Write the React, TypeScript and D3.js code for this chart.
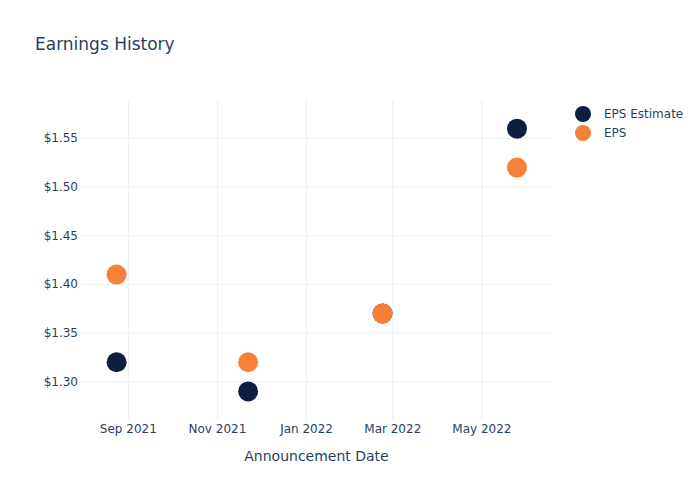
import React from "react";
import * as d3 from "d3";

const dates = ["2021-08-24", "2021-11-22", "2022-02-22", "2022-05-25"];
const epsEstimate = [1.32, 1.29, 1.37, 1.56];
const epsActual = [1.41, 1.32, 1.37, 1.52];
const yTicks = [1.3, 1.35, 1.4, 1.45, 1.5, 1.55];
const xTickDates = ["2021-09-01", "2021-11-01", "2022-01-01", "2022-03-01", "2022-05-01"];
const seriesNames = ["EPS Estimate", "EPS"];
const seriesColors = ["#0c1f41", "#f78139"];

const W = 700, H = 500;
const M = { l: 80, r: 147, t: 100, b: 80 };
const FONT = "'DejaVu Sans', Verdana, sans-serif";
const TXT = "#2a3f5f";
const GRID = "#ebf0f8";

const parse = (s: string) => new Date(s + "T00:00:00Z");

export default function App() {
  const x = d3
    .scaleUtc()
    .domain([new Date(Date.UTC(2021, 6, 30, 10)), new Date(Date.UTC(2022, 5, 19, 3))])
    .range([M.l + 0.7, W - M.r + 0.7]);
  const y = d3.scaleLinear().domain([1.2599, 1.5887]).range([H - M.b + 0.7, M.t + 0.7]);
  const fmtX = d3.utcFormat("%b %Y");
  const series = [epsEstimate, epsActual];

  return (
    <div style={{ position: "absolute", left: 0, top: 0 }}>
      <svg width={W} height={H} style={{ display: "block", background: "#fff" }}>
        <text x={35} y={44} fontFamily={FONT} fontSize={17} fill={TXT} dominantBaseline="central">
          Earnings History
        </text>
        {xTickDates.map((d) => (
          <line key={d} x1={x(parse(d))} x2={x(parse(d))} y1={M.t} y2={H - M.b} stroke={GRID} strokeWidth={1} />
        ))}
        {yTicks.map((v) => (
          <line key={v} x1={M.l} x2={W - M.r} y1={y(v)} y2={y(v)} stroke={GRID} strokeWidth={1} />
        ))}
        {yTicks.map((v) => (
          <text key={v} x={M.l - 2} y={y(v)} textAnchor="end" dominantBaseline="central" fontFamily={FONT} fontSize={12} fill={TXT}>
            {"$" + v.toFixed(2)}
          </text>
        ))}
        {xTickDates.map((d) => (
          <text key={d} x={x(parse(d))} y={429} textAnchor="middle" dominantBaseline="central" fontFamily={FONT} fontSize={12} fill={TXT}>
            {fmtX(parse(d))}
          </text>
        ))}
        <text x={(M.l + W - M.r) / 2} y={456} textAnchor="middle" dominantBaseline="central" fontFamily={FONT} fontSize={14} fill={TXT}>
          Announcement Date
        </text>
        {series.map((vals, si) => (
          <g key={si}>
            {vals.map((v, i) => (
              <circle key={i} cx={x(parse(dates[i]))} cy={y(v)} r={10} fill={seriesColors[si]} />
            ))}
          </g>
        ))}
        {seriesNames.map((n, i) => (
          <g key={n} transform={`translate(583, ${114 + i * 19})`}>
            <circle cx={0} cy={0} r={8} fill={seriesColors[i]} />
            <text x={21} y={0} dominantBaseline="central" fontFamily={FONT} fontSize={12} fill={TXT}>
              {n}
            </text>
          </g>
        ))}
      </svg>
    </div>
  );
}
